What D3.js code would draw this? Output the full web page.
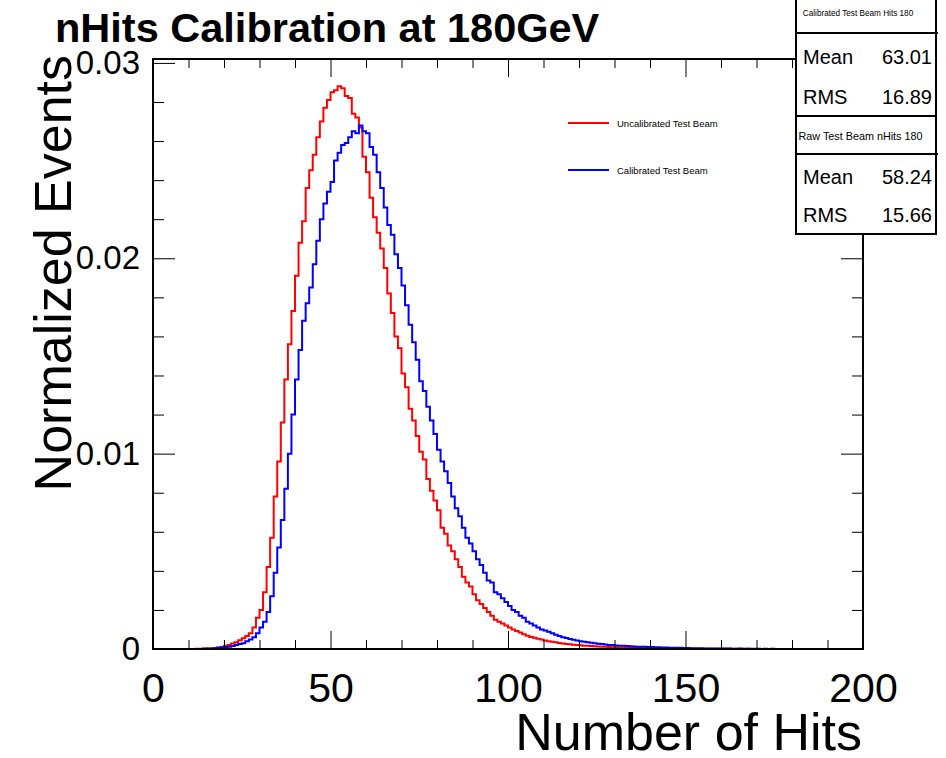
<html>
<head>
<style>
	body {
		margin: 0;
		background: #ffffff;
		font-family: "Liberation Sans", Arial, Helvetica, sans-serif;
	}
	.tick line { stroke: #000; stroke-width: 1; }
	.domain { display: none; }
</style>
</head>
<body>
<svg id="chart" width="946" height="758"></svg>
<script src="https://d3js.org/d3.v7.min.js"></script>
<script>

	// bin contents, one per unit bin from 0 to 200
	let uncalibrated = [
		0,0,0,0,0,0,0,0,0,0,
		0,0,0.00001,0.00001,0.00002,0.00002,0.00003,0.00005,0.00008,0.0001,
		0.00015,0.0002,0.00028,0.00035,0.00045,0.00055,0.00067,0.0008,0.0011,0.0016,
		0.002,0.0029,0.0042,0.0057,0.0078,0.0096,0.0116,0.0138,0.0156,0.0173,
		0.0191,0.0208,0.0219,0.0236,0.0245,0.0253,0.0262,0.027,0.0277,0.0281,
		0.0285,0.0286,0.0288,0.0287,0.0283,0.0282,0.0274,0.0272,0.0267,0.0252,
		0.0244,0.0231,0.0221,0.0213,0.0205,0.0195,0.0182,0.0172,0.016,0.0154,
		0.0141,0.0134,0.0123,0.0117,0.0109,0.0101,0.0097,0.0087,0.0081,0.0076,
		0.0071,0.0062,0.0059,0.0053,0.005,0.0046,0.0042,0.0037,0.0034,0.0032,
		0.0028,0.0025,0.0023,0.0021,0.0019,0.0017,0.0015,0.0014,0.0013,0.0012,
		0.0011,0.001,0.00092,0.00085,0.00075,0.00068,0.00062,0.00057,0.00052,0.00048,
		0.00044,0.0004,0.00037,0.00034,0.00031,0.00028,0.00026,0.00024,0.00022,0.0002,
		0.00019,0.00017,0.00016,0.00015,0.00014,0.00013,0.00012,0.00011,0.0001,0.00009,
		0.00009,0.00008,0.00007,0.00007,0.00006,0.00006,0.00005,0.00005,0.00004,0.00004,
		0.00004,0.00003,0.00003,0.00003,0.00003,0.00003,0.00002,0.00002,0.00002,0.00002,
		0.00002,0.00002,0.00001,0.00001,0.00001,0.00001,0.00001,0.00001,0.00001,0.00001,
		0.00001,0.00001,0.00001,0,0.00001,0,0,0.00001,0,0,
		0,0,0,0,0,0,0,0,0,0,
		0,0,0,0,0,0,0,0,0,0,
		0,0,0,0,0,0,0,0,0,0
	]

	let calibrated = [
		0,0,0,0,0,0,0,0,0,0,
		0,0,0,0,0.00001,0.00002,0.00003,0.00004,0.00006,0.00008,
		0.0001,0.00012,0.00015,0.0002,0.00025,0.0003,0.0004,0.00048,0.0006,0.0008,
		0.0011,0.0014,0.0019,0.0027,0.0039,0.0052,0.0066,0.0082,0.01,0.012,
		0.0138,0.0153,0.0168,0.0177,0.0185,0.0197,0.0209,0.022,0.0228,0.0234,
		0.0239,0.025,0.0254,0.0258,0.0259,0.0262,0.0265,0.0264,0.0268,0.0265,
		0.0264,0.0257,0.0253,0.0244,0.0236,0.0226,0.0217,0.0212,0.0202,0.0195,
		0.0186,0.0176,0.0166,0.0157,0.0148,0.0137,0.0132,0.0124,0.0117,0.011,
		0.0102,0.0096,0.0091,0.0085,0.0078,0.0072,0.0068,0.0062,0.0057,0.0054,
		0.005,0.0046,0.0043,0.0039,0.0035,0.0034,0.0029,0.0028,0.0026,0.0024,
		0.0022,0.002,0.0019,0.0017,0.0016,0.0014,0.0013,0.0012,0.0011,0.001,
		0.00095,0.00088,0.0008,0.00073,0.00067,0.0006,0.00056,0.00051,0.00047,0.00043,
		0.0004,0.00037,0.00034,0.00032,0.0003,0.00027,0.00025,0.00023,0.00021,0.0002,
		0.00018,0.00017,0.00016,0.00015,0.00014,0.00013,0.00012,0.00012,0.00011,0.0001,
		0.0001,0.00009,0.00009,0.00008,0.00008,0.00007,0.00007,0.00006,0.00006,0.00005,
		0.00005,0.00004,0.00004,0.00004,0.00004,0.00003,0.00003,0.00003,0.00002,0.00002,
		0.00002,0.00002,0.00002,0.00001,0.00001,0.00002,0.00001,0.00001,0.00001,0.00001,
		0.00001,0,0.00001,0,0.00001,0,0,0,0,0,
		0,0,0,0,0,0,0,0,0,0,
		0,0,0,0,0,0,0,0,0,0
	]

	let xMajor = [0, 50, 100, 150, 200]
	let xMinor = [10, 20, 30, 40, 60, 70, 80, 90, 110, 120, 130, 140, 160, 170, 180, 190]
	let yMajor = [0, 0.01, 0.02, 0.03]
	let yLabels = ["0", "0.01", "0.02", "0.03"]
	let yMinor = [0.002, 0.004, 0.006, 0.008, 0.012, 0.014, 0.016, 0.018, 0.022, 0.024, 0.026, 0.028]

	let legendNames = ["Uncalibrated Test Beam", "Calibrated Test Beam"]
	let statTitles = ["Calibrated Test Beam Hits 180", "Raw Test Beam nHits 180"]
	let statMeans = ["63.01", "58.24"]
	let statRms = ["16.89", "15.66"]

	let frame = {left: 153, right: 863, top: 59, bottom: 649}
	let font = '"Liberation Sans", Arial, Helvetica, sans-serif'

	let svg = d3.select("#chart")

	let xScale = d3.scaleLinear()
		.domain([0, 200])
		.range([frame.left, frame.right])

	let yScale = d3.scaleLinear()
		.domain([0, 0.0302])
		.range([frame.bottom, frame.top])

	svg.append("rect")
		.attr("width", 946).attr("height", 758)
		.attr("fill", "#fff")

	svg.append("clipPath").attr("id", "frameclip")
		.append("rect")
		.attr("x", frame.left).attr("y", frame.top)
		.attr("width", frame.right - frame.left)
		.attr("height", frame.bottom - frame.top)

	//histograms
	function toSteps(values) {
		let pts = values.map((v, i) => ({edge: i, value: v}))
		pts.push({edge: values.length, value: values[values.length - 1]})
		return pts
	}

	let stepLine = d3.line()
		.x(d => xScale(d.edge))
		.y(d => yScale(d.value))
		.curve(d3.curveStepAfter)

	let hists = svg.append("g").attr("clip-path", "url(#frameclip)")

	hists.append("path")
		.attr("d", stepLine(toSteps(uncalibrated)))
		.attr("fill", "none")
		.attr("stroke", "#ff0000")
		.attr("stroke-width", 2)

	hists.append("path")
		.attr("d", stepLine(toSteps(calibrated)))
		.attr("fill", "none")
		.attr("stroke", "#0000ff")
		.attr("stroke-width", 2)

	//axes, ticks pointing inside the frame
	let bottomMajor = svg.append("g")
		.attr("transform", `translate(0,${frame.bottom})`)
		.call(d3.axisBottom(xScale).tickValues(xMajor).tickSize(-18).tickPadding(24))
	bottomMajor.selectAll("text")
		.attr("font-family", font).attr("font-size", 41).attr("fill", "#000")

	svg.append("g")
		.attr("transform", `translate(0,${frame.bottom})`)
		.call(d3.axisBottom(xScale).tickValues(xMinor).tickSize(-9).tickFormat(""))

	svg.append("g")
		.attr("transform", `translate(0,${frame.top})`)
		.call(d3.axisTop(xScale).tickValues(xMajor).tickSize(-18).tickFormat(""))
	svg.append("g")
		.attr("transform", `translate(0,${frame.top})`)
		.call(d3.axisTop(xScale).tickValues(xMinor).tickSize(-9).tickFormat(""))

	let leftMajor = svg.append("g")
		.attr("transform", `translate(${frame.left},0)`)
		.call(d3.axisLeft(yScale).tickValues(yMajor).tickSize(-22).tickPadding(13)
			.tickFormat((d, i) => yLabels[i]))
	leftMajor.selectAll("text")
		.attr("font-family", font).attr("font-size", 33).attr("fill", "#000")

	svg.append("g")
		.attr("transform", `translate(${frame.left},0)`)
		.call(d3.axisLeft(yScale).tickValues(yMinor).tickSize(-11).tickFormat(""))

	svg.append("g")
		.attr("transform", `translate(${frame.right},0)`)
		.call(d3.axisRight(yScale).tickValues(yMajor).tickSize(-22).tickFormat(""))
	svg.append("g")
		.attr("transform", `translate(${frame.right},0)`)
		.call(d3.axisRight(yScale).tickValues(yMinor).tickSize(-11).tickFormat(""))

	//frame
	svg.append("rect")
		.attr("x", frame.left).attr("y", frame.top)
		.attr("width", frame.right - frame.left)
		.attr("height", frame.bottom - frame.top)
		.attr("fill", "none")
		.attr("stroke", "#000")
		.attr("stroke-width", 2)

	//titles
	svg.append("text")
		.attr("x", 55).attr("y", 42)
		.attr("font-family", font).attr("font-size", 41.5).attr("font-weight", "bold")
		.text("nHits Calibration at 180GeV")

	svg.append("text")
		.attr("x", 862).attr("y", 750)
		.attr("text-anchor", "end")
		.attr("font-family", font).attr("font-size", 52)
		.text("Number of Hits")

	svg.append("text")
		.attr("transform", "translate(71,55) rotate(-90)")
		.attr("text-anchor", "end")
		.attr("font-family", font).attr("font-size", 52)
		.text("Normalized Events")

	//legend
	let legendColors = ["#ff0000", "#0000ff"]
	let legend = svg.selectAll(".legend")
		.data(legendNames)
		.enter().append("g")
		.attr("class", "legend")
		.attr("transform", (d, i) => `translate(568,${123 + i * 47})`)
	legend.append("line")
		.attr("x1", 0).attr("x2", 41)
		.attr("stroke", (d, i) => legendColors[i])
		.attr("stroke-width", 2)
	legend.append("text")
		.attr("x", 49).attr("y", 3.5)
		.attr("font-family", font).attr("font-size", 9.5)
		.text(d => d)

	//stat boxes
	let boxTop = [-2, 116]
	let boxH = [118, 118]
	let stats = svg.selectAll(".stats")
		.data(statTitles)
		.enter().append("g")
		.attr("class", "stats")
		.attr("transform", (d, i) => `translate(796,${boxTop[i]})`)
	stats.append("rect")
		.attr("width", 140).attr("height", (d, i) => boxH[i])
		.attr("fill", "#fff").attr("stroke", "#000").attr("stroke-width", 2)
	stats.append("line")
		.attr("x1", 0).attr("x2", 142)
		.attr("y1", (d, i) => i == 0 ? 35 : 38)
		.attr("y2", (d, i) => i == 0 ? 35 : 38)
		.attr("stroke", "#000").attr("stroke-width", 2)
	stats.append("text")
		.attr("x", (d, i) => i == 0 ? 62 : 64.5)
		.attr("y", (d, i) => i == 0 ? 18 : 24)
		.attr("text-anchor", "middle")
		.attr("font-family", font)
		.attr("font-size", (d, i) => i == 0 ? 8.2 : 10.8)
		.text(d => d)
	stats.append("text")
		.attr("x", 7).attr("y", (d, i) => i == 0 ? 66 : 68)
		.attr("font-family", font).attr("font-size", 20)
		.text("Mean")
	stats.append("text")
		.attr("x", 136).attr("y", (d, i) => i == 0 ? 66 : 68)
		.attr("text-anchor", "end")
		.attr("font-family", font).attr("font-size", 20)
		.text((d, i) => statMeans[i])
	stats.append("text")
		.attr("x", 7).attr("y", 106)
		.attr("font-family", font).attr("font-size", 20)
		.text("RMS")
	stats.append("text")
		.attr("x", 136).attr("y", 106)
		.attr("text-anchor", "end")
		.attr("font-family", font).attr("font-size", 20)
		.text((d, i) => statRms[i])

</script>
</body>
</html>
